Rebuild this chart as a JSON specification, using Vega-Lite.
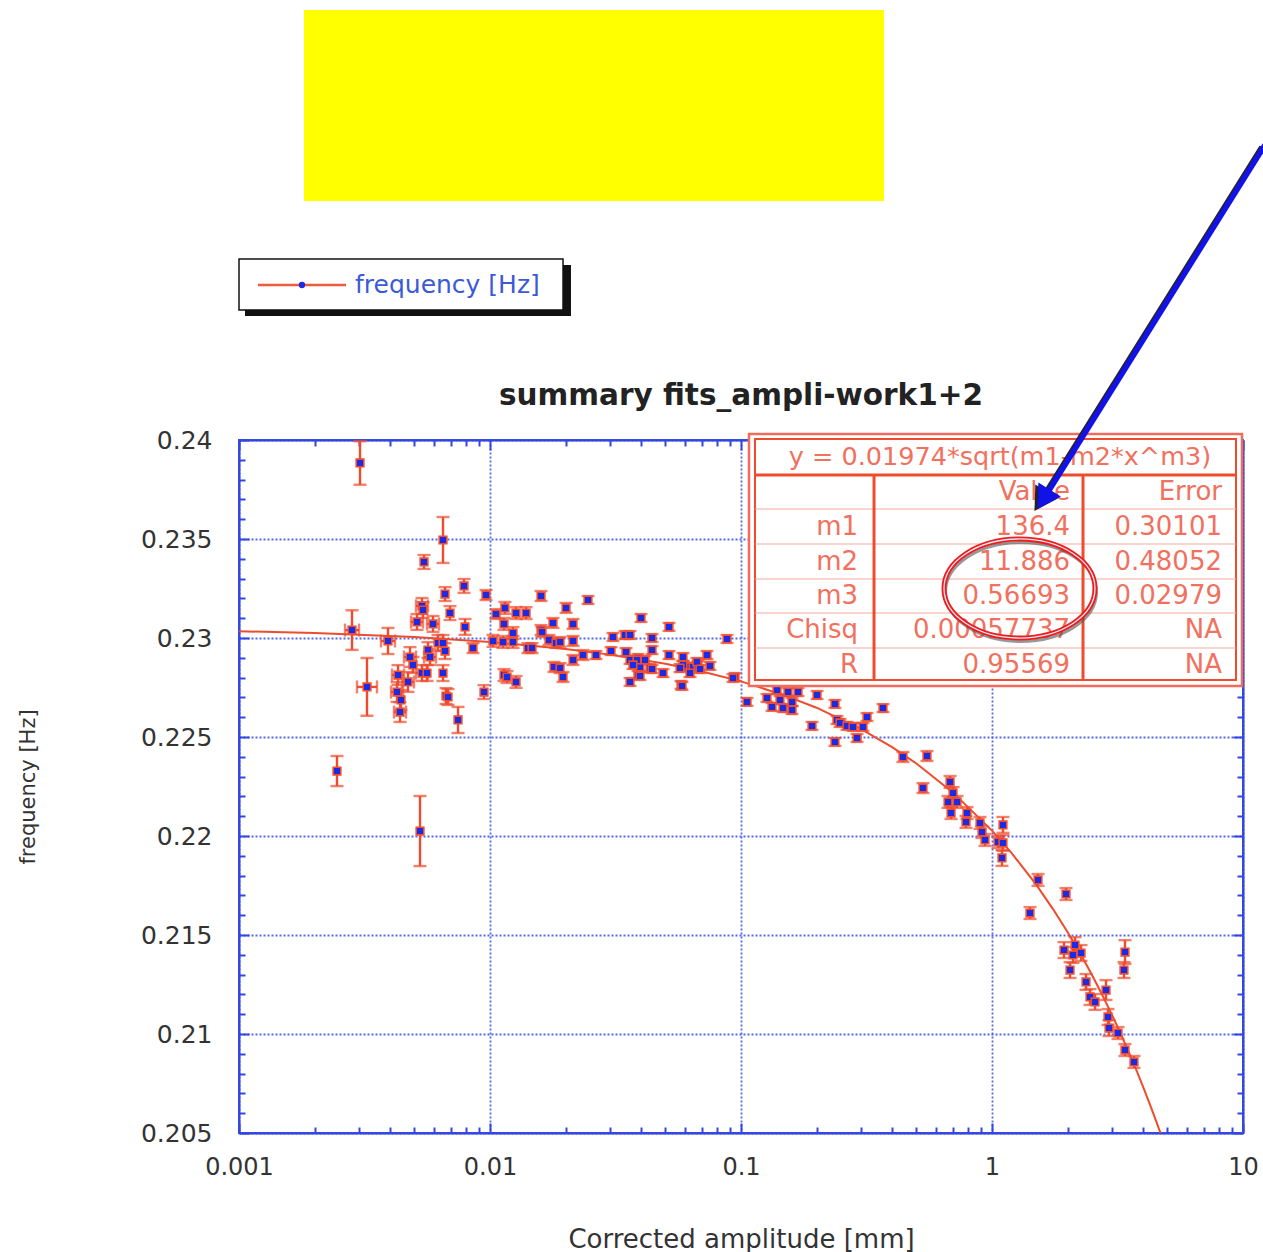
{
  "$schema": "https://vega.github.io/schema/vega-lite/v6.json",
  "autosize": {"type": "none"},
  "width": 1004,
  "height": 693,
  "padding": {"left": 239, "top": 440, "right": 20, "bottom": 119},
  "background": "white",
  "config": {
    "view": {"stroke": "#3347e0", "strokeWidth": 2},
    "font": "DejaVu Sans"
  },
  "datasets": {
    "obs": [
      {"a": 0.003035, "f": 0.23884, "e": 0.0011},
      {"a": 0.006498, "f": 0.23495, "e": 0.00116},
      {"a": 0.005459, "f": 0.23384, "e": 0.00035},
      {"a": 0.007879, "f": 0.23263, "e": 0.00035},
      {"a": 0.006619, "f": 0.23222, "e": 0.00035},
      {"a": 0.009641, "f": 0.23217, "e": 0.00025},
      {"a": 0.00536, "f": 0.23162, "e": 0.0004, "al": 0.005073, "ah": 0.005663},
      {"a": 0.006929, "f": 0.23126, "e": 0.00035},
      {"a": 0.00282, "f": 0.2304, "e": 0.001, "al": 0.002645, "ah": 0.003007},
      {"a": 0.003236, "f": 0.22753, "e": 0.00146, "al": 0.002952, "ah": 0.003547},
      {"a": 0.002457, "f": 0.22328, "e": 0.00076},
      {"a": 0.005262, "f": 0.22025, "e": 0.00177},
      {"a": 0.003923, "f": 0.22985, "e": 0.00066, "al": 0.003679, "ah": 0.004183},
      {"a": 0.004301, "f": 0.22813, "e": 0.0005, "al": 0.004071, "ah": 0.004544},
      {"a": 0.00438, "f": 0.22626, "e": 0.0005, "al": 0.004145, "ah": 0.004628},
      {"a": 0.00442, "f": 0.22687, "e": 0.0005},
      {"a": 0.0048, "f": 0.22904, "e": 0.0005, "al": 0.004543, "ah": 0.005072},
      {"a": 0.004934, "f": 0.22864, "e": 0.0004},
      {"a": 0.004713, "f": 0.22778, "e": 0.0005, "al": 0.00446, "ah": 0.00498},
      {"a": 0.004262, "f": 0.22727, "e": 0.0005, "al": 0.004034, "ah": 0.004503},
      {"a": 0.00541, "f": 0.23141, "e": 0.0004},
      {"a": 0.005119, "f": 0.23081, "e": 0.0004, "al": 0.004845, "ah": 0.005409},
      {"a": 0.005928, "f": 0.23071, "e": 0.0004, "al": 0.00561, "ah": 0.006264},
      {"a": 0.005662, "f": 0.22939, "e": 0.0004},
      {"a": 0.005768, "f": 0.22904, "e": 0.0004, "al": 0.005459, "ah": 0.006095},
      {"a": 0.00536, "f": 0.22823, "e": 0.0004, "al": 0.005073, "ah": 0.005663},
      {"a": 0.00561, "f": 0.22823, "e": 0.0004},
      {"a": 0.006207, "f": 0.22975, "e": 0.0004},
      {"a": 0.006498, "f": 0.22975, "e": 0.0004},
      {"a": 0.006619, "f": 0.22934, "e": 0.0004},
      {"a": 0.006498, "f": 0.22823, "e": 0.0004},
      {"a": 0.00668, "f": 0.22707, "e": 0.0004},
      {"a": 0.006804, "f": 0.22702, "e": 0.0004},
      {"a": 0.007458, "f": 0.22586, "e": 0.00066},
      {"a": 0.007952, "f": 0.23056, "e": 0.0004},
      {"a": 0.008557, "f": 0.22949, "e": 0.00025},
      {"a": 0.009465, "f": 0.22727, "e": 0.00035},
      {"a": 0.01028, "f": 0.22985, "e": 0.0003},
      {"a": 0.01057, "f": 0.23121, "e": 0.00025},
      {"a": 0.01137, "f": 0.23071, "e": 0.0003},
      {"a": 0.01147, "f": 0.23152, "e": 0.0003},
      {"a": 0.01127, "f": 0.2298, "e": 0.0003},
      {"a": 0.01235, "f": 0.23025, "e": 0.0003},
      {"a": 0.01235, "f": 0.2298, "e": 0.0003},
      {"a": 0.0127, "f": 0.23126, "e": 0.0003},
      {"a": 0.01392, "f": 0.23126, "e": 0.0003},
      {"a": 0.01137, "f": 0.22813, "e": 0.0003},
      {"a": 0.01169, "f": 0.22803, "e": 0.0003},
      {"a": 0.0127, "f": 0.22778, "e": 0.0003},
      {"a": 0.01417, "f": 0.22949, "e": 0.00025},
      {"a": 0.0147, "f": 0.22949, "e": 0.00025},
      {"a": 0.01597, "f": 0.23212, "e": 0.00025},
      {"a": 0.01597, "f": 0.2304, "e": 0.00025},
      {"a": 0.01612, "f": 0.2303, "e": 0.00025},
      {"a": 0.01718, "f": 0.2299, "e": 0.00025},
      {"a": 0.01782, "f": 0.23076, "e": 0.00025},
      {"a": 0.01832, "f": 0.22975, "e": 0.00025},
      {"a": 0.01901, "f": 0.2298, "e": 0.00025},
      {"a": 0.02009, "f": 0.23152, "e": 0.00025},
      {"a": 0.02142, "f": 0.23071, "e": 0.00025},
      {"a": 0.02142, "f": 0.22985, "e": 0.00025},
      {"a": 0.01799, "f": 0.22854, "e": 0.00025},
      {"a": 0.01901, "f": 0.22848, "e": 0.00025},
      {"a": 0.01954, "f": 0.22803, "e": 0.00025},
      {"a": 0.02142, "f": 0.22889, "e": 0.00025},
      {"a": 0.02348, "f": 0.22914, "e": 0.00025},
      {"a": 0.02457, "f": 0.23192, "e": 0.0002},
      {"a": 0.02644, "f": 0.22914, "e": 0.0002},
      {"a": 0.03035, "f": 0.22934, "e": 0.0002},
      {"a": 0.0309, "f": 0.23005, "e": 0.0002},
      {"a": 0.0345, "f": 0.23015, "e": 0.0002},
      {"a": 0.03613, "f": 0.23015, "e": 0.0002},
      {"a": 0.03996, "f": 0.23101, "e": 0.0002},
      {"a": 0.03613, "f": 0.22889, "e": 0.0002},
      {"a": 0.03887, "f": 0.22899, "e": 0.0002},
      {"a": 0.03959, "f": 0.22854, "e": 0.0002},
      {"a": 0.03887, "f": 0.22813, "e": 0.0002},
      {"a": 0.03613, "f": 0.22778, "e": 0.0002},
      {"a": 0.04421, "f": 0.23, "e": 0.0002},
      {"a": 0.04421, "f": 0.22939, "e": 0.0002},
      {"a": 0.04341, "f": 0.22848, "e": 0.0002},
      {"a": 0.0489, "f": 0.22823, "e": 0.0002},
      {"a": 0.05167, "f": 0.23056, "e": 0.0002},
      {"a": 0.05167, "f": 0.22914, "e": 0.0002},
      {"a": 0.05768, "f": 0.22763, "e": 0.0002},
      {"a": 0.05875, "f": 0.22904, "e": 0.0002},
      {"a": 0.06095, "f": 0.22854, "e": 0.0002},
      {"a": 0.0644, "f": 0.22854, "e": 0.0002},
      {"a": 0.06264, "f": 0.22823, "e": 0.0002},
      {"a": 0.0674, "f": 0.22864, "e": 0.0002},
      {"a": 0.07319, "f": 0.22914, "e": 0.0002},
      {"a": 0.07522, "f": 0.22859, "e": 0.0002},
      {"a": 0.08796, "f": 0.22995, "e": 0.0002},
      {"a": 0.09465, "f": 0.22803, "e": 0.0002},
      {"a": 0.1057, "f": 0.22677, "e": 0.0002},
      {"a": 0.03482, "f": 0.22929, "e": 0.0002},
      {"a": 0.03852, "f": 0.22889, "e": 0.0002},
      {"a": 0.04146, "f": 0.22889, "e": 0.0002},
      {"a": 0.03713, "f": 0.22864, "e": 0.0002},
      {"a": 0.05875, "f": 0.22864, "e": 0.0002},
      {"a": 0.06678, "f": 0.22879, "e": 0.0002},
      {"a": 0.04421, "f": 0.22843, "e": 0.0002},
      {"a": 0.05715, "f": 0.22848, "e": 0.0002},
      {"a": 0.06865, "f": 0.22843, "e": 0.0002},
      {"a": 0.03959, "f": 0.22808, "e": 0.0002},
      {"a": 0.05821, "f": 0.22758, "e": 0.0002},
      {"a": 0.09293, "f": 0.22798, "e": 0.0002},
      {"a": 0.1269, "f": 0.22697, "e": 0.0002},
      {"a": 0.1391, "f": 0.22737, "e": 0.0002},
      {"a": 0.1539, "f": 0.22727, "e": 0.0002},
      {"a": 0.1687, "f": 0.22727, "e": 0.0002},
      {"a": 0.143, "f": 0.22687, "e": 0.0002},
      {"a": 0.1597, "f": 0.22677, "e": 0.0002},
      {"a": 0.1329, "f": 0.22652, "e": 0.0002},
      {"a": 0.147, "f": 0.22646, "e": 0.0002},
      {"a": 0.1597, "f": 0.22636, "e": 0.0002},
      {"a": 0.2009, "f": 0.22712, "e": 0.0002},
      {"a": 0.2368, "f": 0.22667, "e": 0.0002},
      {"a": 0.1918, "f": 0.22556, "e": 0.0002},
      {"a": 0.2412, "f": 0.22586, "e": 0.0002},
      {"a": 0.248, "f": 0.22571, "e": 0.0002},
      {"a": 0.2644, "f": 0.22556, "e": 0.0002},
      {"a": 0.2794, "f": 0.22551, "e": 0.0002},
      {"a": 0.3177, "f": 0.22601, "e": 0.0002},
      {"a": 0.3679, "f": 0.22646, "e": 0.0002},
      {"a": 0.3063, "f": 0.22551, "e": 0.0002},
      {"a": 0.2368, "f": 0.22475, "e": 0.0002},
      {"a": 0.2899, "f": 0.22495, "e": 0.0002},
      {"a": 0.4419, "f": 0.22399, "e": 0.00025},
      {"a": 0.5508, "f": 0.22404, "e": 0.00025},
      {"a": 0.531, "f": 0.22242, "e": 0.00025},
      {"a": 0.6806, "f": 0.22273, "e": 0.0003},
      {"a": 0.6995, "f": 0.22217, "e": 0.0003},
      {"a": 0.6682, "f": 0.22172, "e": 0.0003},
      {"a": 0.7255, "f": 0.22172, "e": 0.0003},
      {"a": 0.6869, "f": 0.22116, "e": 0.0003},
      {"a": 0.7952, "f": 0.22116, "e": 0.0003},
      {"a": 0.7879, "f": 0.22071, "e": 0.0003},
      {"a": 0.8959, "f": 0.22066, "e": 0.0003},
      {"a": 0.9125, "f": 0.2202, "e": 0.0003},
      {"a": 0.9378, "f": 0.2198, "e": 0.0003},
      {"a": 1.106, "f": 0.22056, "e": 0.0004},
      {"a": 1.0565, "f": 0.2197, "e": 0.0003},
      {"a": 1.106, "f": 0.21965, "e": 0.0004},
      {"a": 1.096, "f": 0.21889, "e": 0.0004},
      {"a": 1.5253, "f": 0.21778, "e": 0.0003},
      {"a": 1.972, "f": 0.21707, "e": 0.0003},
      {"a": 1.417, "f": 0.21611, "e": 0.0003},
      {"a": 1.936, "f": 0.21424, "e": 0.0004},
      {"a": 2.142, "f": 0.21449, "e": 0.0004},
      {"a": 2.102, "f": 0.21399, "e": 0.0004},
      {"a": 2.263, "f": 0.21409, "e": 0.0004},
      {"a": 2.046, "f": 0.21323, "e": 0.0004},
      {"a": 2.369, "f": 0.21263, "e": 0.0004},
      {"a": 2.846, "f": 0.21222, "e": 0.0005},
      {"a": 2.457, "f": 0.21187, "e": 0.0004},
      {"a": 2.5736, "f": 0.21162, "e": 0.0004},
      {"a": 3.387, "f": 0.21414, "e": 0.0006},
      {"a": 3.356, "f": 0.21323, "e": 0.0004},
      {"a": 2.899, "f": 0.21086, "e": 0.0004},
      {"a": 2.926, "f": 0.2103, "e": 0.0004},
      {"a": 3.177, "f": 0.21005, "e": 0.0003},
      {"a": 3.387, "f": 0.20919, "e": 0.0003},
      {"a": 3.679, "f": 0.20859, "e": 0.0003}
    ],
    "fit": [
      {"a": 0.001, "f": 0.23034},
      {"a": 0.002, "f": 0.23025},
      {"a": 0.005, "f": 0.23005},
      {"a": 0.01, "f": 0.2298},
      {"a": 0.02, "f": 0.22945},
      {"a": 0.03, "f": 0.22916},
      {"a": 0.05, "f": 0.2287},
      {"a": 0.07, "f": 0.22831},
      {"a": 0.1, "f": 0.22781},
      {"a": 0.15, "f": 0.22709},
      {"a": 0.2, "f": 0.22648},
      {"a": 0.3, "f": 0.22541},
      {"a": 0.4, "f": 0.22449},
      {"a": 0.5, "f": 0.22366},
      {"a": 0.7, "f": 0.22219},
      {"a": 1, "f": 0.22027},
      {"a": 1.2, "f": 0.21912},
      {"a": 1.5, "f": 0.21754},
      {"a": 1.75, "f": 0.21631},
      {"a": 2, "f": 0.21515},
      {"a": 2.25, "f": 0.21405},
      {"a": 2.5, "f": 0.21299},
      {"a": 2.75, "f": 0.21197},
      {"a": 3, "f": 0.21099},
      {"a": 3.25, "f": 0.21004},
      {"a": 3.5, "f": 0.20911},
      {"a": 3.75, "f": 0.20821},
      {"a": 4, "f": 0.20733},
      {"a": 4.25, "f": 0.20647},
      {"a": 4.5, "f": 0.20563},
      {"a": 4.8, "f": 0.20465}
    ]
  },
  "data": {"name": "obs"},
  "resolve": {"axis": {"x": "independent", "y": "independent"}},
  "layer": [
    {
      "data": {"name": "fit"},
      "mark": {"type": "line", "color": "#ef4b2d", "strokeWidth": 2, "clip": true},
      "encoding": {
        "x": {
          "field": "a", "type": "quantitative",
          "scale": {"type": "log", "domain": [0.001, 10]},
          "axis": {
            "orient": "top", "title": null, "labels": false, "grid": false,
            "values": [0.001, 0.002, 0.003, 0.004, 0.005, 0.006, 0.007, 0.008, 0.009, 0.01, 0.02, 0.03, 0.04, 0.05, 0.06, 0.07, 0.08, 0.09, 0.1, 0.2, 0.3, 0.4, 0.5, 0.6, 0.7, 0.8, 0.9, 1, 2, 3, 4, 5, 6, 7, 8, 9, 10],
            "domainColor": "#3347e0", "domainWidth": 2,
            "tickColor": "#3347e0", "tickWidth": 2,
            "tickSize": {"condition": {"test": "indexof([0.001,0.01,0.1,1,10], datum.value) >= 0", "value": -10}, "value": -6}
          }
        },
        "y": {
          "field": "f", "type": "quantitative",
          "scale": {"domain": [0.205, 0.24], "zero": false, "nice": false},
          "axis": {
            "orient": "right", "title": null, "labels": false, "grid": false,
            "values": [0.205, 0.206, 0.207, 0.208, 0.209, 0.21, 0.211, 0.212, 0.213, 0.214, 0.215, 0.216, 0.217, 0.218, 0.219, 0.22, 0.221, 0.222, 0.223, 0.224, 0.225, 0.226, 0.227, 0.228, 0.229, 0.23, 0.231, 0.232, 0.233, 0.234, 0.235, 0.236, 0.237, 0.238, 0.239, 0.24],
            "domainColor": "#3347e0", "domainWidth": 2,
            "tickColor": "#3347e0", "tickWidth": 2,
            "tickSize": {"condition": {"test": "abs(datum.value*200 - round(datum.value*200)) < 1e-6", "value": -10}, "value": -6}
          }
        }
      }
    },
    {
      "transform": [{"filter": "isValid(datum.al)"}],
      "mark": {"type": "errorbar", "color": "#ef4b2d", "thickness": 2.4, "ticks": {"size": 13, "thickness": 2.4}},
      "encoding": {
        "x": {"field": "al", "type": "quantitative", "axis": null},
        "x2": {"field": "ah"},
        "y": {"field": "f", "type": "quantitative", "axis": null}
      }
    },
    {
      "mark": {"type": "errorbar", "color": "#ef4b2d", "thickness": 2.4, "ticks": {"size": 13, "thickness": 2.4}},
      "encoding": {
        "x": {"field": "a", "type": "quantitative", "axis": null},
        "y": {"field": "f", "type": "quantitative", "axis": null},
        "yError": {"field": "e"}
      }
    },
    {
      "mark": {"type": "point", "shape": "square", "filled": true, "size": 58, "fill": "#1a2be8", "stroke": "#ef4b2d", "strokeWidth": 1.6, "opacity": 1},
      "encoding": {
        "x": {
          "field": "a", "type": "quantitative",
          "axis": {
            "orient": "bottom", "title": "Corrected amplitude [mm]",
            "values": [0.001, 0.002, 0.003, 0.004, 0.005, 0.006, 0.007, 0.008, 0.009, 0.01, 0.02, 0.03, 0.04, 0.05, 0.06, 0.07, 0.08, 0.09, 0.1, 0.2, 0.3, 0.4, 0.5, 0.6, 0.7, 0.8, 0.9, 1, 2, 3, 4, 5, 6, 7, 8, 9, 10],
            "grid": true, "gridColor": "#5468e6", "gridDash": [2, 2], "gridWidth": 1.8,
            "gridOpacity": {"condition": {"test": "indexof([0.001,0.01,0.1,1,10], datum.value) >= 0", "value": 1}, "value": 0},
            "domainColor": "#3347e0", "domainWidth": 2,
            "tickColor": "#3347e0", "tickWidth": 2,
            "tickSize": {"condition": {"test": "indexof([0.001,0.01,0.1,1,10], datum.value) >= 0", "value": -10}, "value": -6},
            "labelExpr": "indexof([0.001,0.01,0.1,1,10], datum.value) >= 0 ? format(datum.value, '~g') : ''",
            "labelOverlap": false, "labelFlush": false, "labelBound": false,
            "labelFont": "DejaVu Sans", "labelFontSize": 24, "labelColor": "#333333", "labelPadding": 32,
            "titleFont": "DejaVu Sans", "titleFontSize": 26, "titleColor": "#333333", "titleFontWeight": "normal", "titlePadding": 43
          }
        },
        "y": {
          "field": "f", "type": "quantitative",
          "axis": {
            "orient": "left", "title": "frequency [Hz]",
            "values": [0.205, 0.206, 0.207, 0.208, 0.209, 0.21, 0.211, 0.212, 0.213, 0.214, 0.215, 0.216, 0.217, 0.218, 0.219, 0.22, 0.221, 0.222, 0.223, 0.224, 0.225, 0.226, 0.227, 0.228, 0.229, 0.23, 0.231, 0.232, 0.233, 0.234, 0.235, 0.236, 0.237, 0.238, 0.239, 0.24],
            "grid": true, "gridColor": "#5468e6", "gridDash": [2, 2], "gridWidth": 1.8,
            "gridOpacity": {"condition": {"test": "abs(datum.value*200 - round(datum.value*200)) < 1e-6", "value": 1}, "value": 0},
            "domainColor": "#3347e0", "domainWidth": 2,
            "tickColor": "#3347e0", "tickWidth": 2,
            "tickSize": {"condition": {"test": "abs(datum.value*200 - round(datum.value*200)) < 1e-6", "value": -10}, "value": -6},
            "labelExpr": "abs(datum.value*200 - round(datum.value*200)) < 1e-6 ? format(datum.value, '~g') : ''",
            "labelOverlap": false, "labelFlush": false, "labelBound": false,
            "labelFont": "DejaVu Sans", "labelFontSize": 25, "labelColor": "#333333", "labelPadding": 37,
            "titleFont": "DejaVu Sans", "titleFontSize": 21, "titleColor": "#333333", "titleFontWeight": "normal", "titlePadding": 102
          }
        }
      }
    },
    {
      "data": {"values": [{"a1": 0.0018155, "a2": 0.3713, "f1": 0.252071, "f2": 0.261717}]},
      "mark": {"type": "rect", "color": "#ffff00"},
      "encoding": {
        "x": {"field": "a1", "type": "quantitative", "axis": null}, "x2": {"field": "a2"},
        "y": {"field": "f1", "type": "quantitative", "axis": null}, "y2": {"field": "f2"}
      }
    },
    {
      "data": {"values": [{"a1": 0.0010566, "a2": 0.02102, "f1": 0.246263, "f2": 0.248838}]},
      "mark": {"type": "rect", "color": "#111111"},
      "encoding": {
        "x": {"field": "a1", "type": "quantitative", "axis": null}, "x2": {"field": "a2"},
        "y": {"field": "f1", "type": "quantitative", "axis": null}, "y2": {"field": "f2"}
      }
    },
    {
      "data": {"values": [{"a1": 0.001, "a2": 0.01954, "f1": 0.246566, "f2": 0.249141}]},
      "mark": {"type": "rect", "fill": "white", "stroke": "#111111", "strokeWidth": 1.5},
      "encoding": {
        "x": {"field": "a1", "type": "quantitative", "axis": null}, "x2": {"field": "a2"},
        "y": {"field": "f1", "type": "quantitative", "axis": null}, "y2": {"field": "f2"}
      }
    },
    {
      "data": {"values": [{"a1": 0.00119, "a2": 0.002669, "f": 0.247828}]},
      "mark": {"type": "rule", "color": "#ef5a3a", "strokeWidth": 2.5},
      "encoding": {
        "x": {"field": "a1", "type": "quantitative", "axis": null}, "x2": {"field": "a2"},
        "y": {"field": "f", "type": "quantitative", "axis": null}
      }
    },
    {
      "data": {"values": [{"a": 0.001782, "f": 0.247828}]},
      "mark": {"type": "point", "shape": "circle", "filled": true, "size": 40, "color": "#1a2be8", "opacity": 1},
      "encoding": {
        "x": {"field": "a", "type": "quantitative", "axis": null},
        "y": {"field": "f", "type": "quantitative", "axis": null}
      }
    },
    {
      "data": {"values": [{"a": 0.002899, "f": 0.247828, "t": "frequency [Hz]"}]},
      "mark": {"type": "text", "align": "left", "baseline": "middle", "font": "DejaVu Sans", "fontSize": 25, "color": "#3b5ad8"},
      "encoding": {
        "x": {"field": "a", "type": "quantitative", "axis": null},
        "y": {"field": "f", "type": "quantitative", "axis": null},
        "text": {"field": "t"}
      }
    },
    {
      "data": {"values": [{"a": 0.1, "f": 0.241768, "t": "summary fits_ampli-work1+2"}]},
      "mark": {"type": "text", "align": "center", "baseline": "alphabetic", "font": "DejaVu Sans", "fontWeight": "bold", "fontSize": 29.5, "color": "#222222"},
      "encoding": {
        "x": {"field": "a", "type": "quantitative", "axis": null},
        "y": {"field": "f", "type": "quantitative", "axis": null},
        "text": {"field": "t"}
      }
    },
    {
      "data": {"values": [{"a1": 0.1076, "a2": 9.909, "f1": 0.227576, "f2": 0.240303}]},
      "mark": {"type": "rect", "fill": "white", "stroke": "#f26b5b", "strokeWidth": 2.5},
      "encoding": {
        "x": {"field": "a1", "type": "quantitative", "axis": null}, "x2": {"field": "a2"},
        "y": {"field": "f1", "type": "quantitative", "axis": null}, "y2": {"field": "f2"}
      }
    },
    {
      "data": {"values": [{"a1": 0.1137, "a2": 9.377, "f1": 0.227879, "f2": 0.240051}]},
      "mark": {"type": "rect", "fill": null, "fillOpacity": 0, "stroke": "#ef4b2d", "strokeWidth": 2},
      "encoding": {
        "x": {"field": "a1", "type": "quantitative", "axis": null}, "x2": {"field": "a2"},
        "y": {"field": "f1", "type": "quantitative", "axis": null}, "y2": {"field": "f2"}
      }
    },
    {
      "data": {"values": [{"f": 0.236515}, {"f": 0.234747}, {"f": 0.23298}, {"f": 0.231263}, {"f": 0.229495}]},
      "mark": {"type": "rule", "color": "#f6a99d", "strokeWidth": 1.2},
      "encoding": {
        "x": {"datum": 0.1137, "type": "quantitative", "axis": null},
        "x2": {"datum": 9.377},
        "y": {"field": "f", "type": "quantitative", "axis": null}
      }
    },
    {
      "data": {"values": [{"f": 0.238232}]},
      "mark": {"type": "rule", "color": "#ef4b2d", "strokeWidth": 3},
      "encoding": {
        "x": {"datum": 0.1137, "type": "quantitative", "axis": null},
        "x2": {"datum": 9.377},
        "y": {"field": "f", "type": "quantitative", "axis": null}
      }
    },
    {
      "data": {"values": [{"a": 0.3388}, {"a": 2.3045}]},
      "mark": {"type": "rule", "color": "#ef4b2d", "strokeWidth": 3},
      "encoding": {
        "x": {"field": "a", "type": "quantitative", "axis": null},
        "y": {"datum": 0.227879, "type": "quantitative", "axis": null},
        "y2": {"datum": 0.238232}
      }
    },
    {
      "data": {"values": [{"a": 1.0762, "f": 0.239141, "t": "y = 0.01974*sqrt(m1-m2*x^m3)"}]},
      "mark": {"type": "text", "align": "center", "baseline": "middle", "font": "DejaVu Sans", "fontSize": 25.5, "color": "#f2705e"},
      "encoding": {
        "x": {"field": "a", "type": "quantitative", "axis": null},
        "y": {"field": "f", "type": "quantitative", "axis": null},
        "text": {"field": "t"}
      }
    },
    {
      "data": {"values": [
        {"a": 2.046, "f": 0.237374, "t": "Value"},
        {"a": 8.248, "f": 0.237374, "t": "Error"},
        {"a": 0.2926, "f": 0.235606, "t": "m1"},
        {"a": 2.046, "f": 0.235606, "t": "136.4"},
        {"a": 8.248, "f": 0.235606, "t": "0.30101"},
        {"a": 0.2926, "f": 0.233838, "t": "m2"},
        {"a": 2.046, "f": 0.233838, "t": "11.886"},
        {"a": 8.248, "f": 0.233838, "t": "0.48052"},
        {"a": 0.2926, "f": 0.232121, "t": "m3"},
        {"a": 2.046, "f": 0.232121, "t": "0.56693"},
        {"a": 8.248, "f": 0.232121, "t": "0.02979"},
        {"a": 0.2926, "f": 0.230404, "t": "Chisq"},
        {"a": 2.046, "f": 0.230404, "t": "0.00057737"},
        {"a": 8.248, "f": 0.230404, "t": "NA"},
        {"a": 0.2926, "f": 0.228636, "t": "R"},
        {"a": 2.046, "f": 0.228636, "t": "0.95569"},
        {"a": 8.248, "f": 0.228636, "t": "NA"}
      ]},
      "mark": {"type": "text", "align": "right", "baseline": "middle", "font": "DejaVu Sans", "fontSize": 26, "color": "#f2705e"},
      "encoding": {
        "x": {"field": "a", "type": "quantitative", "axis": null},
        "y": {"field": "f", "type": "quantitative", "axis": null},
        "text": {"field": "t"}
      }
    },
    {
      "data": {"values": [{"a": 1.287, "f": 0.2325}]},
      "mark": {"type": "point", "filled": false, "size": 22801, "color": "#555555", "strokeWidth": 3, "opacity": 0.6, "xOffset": 1.5, "yOffset": 3.5,
        "shape": "M -1 0 C -1 -0.3623 -0.5523 -0.656 0 -0.656 C 0.5523 -0.656 1 -0.3623 1 0 C 1 0.3623 0.5523 0.656 0 0.656 C -0.5523 0.656 -1 0.3623 -1 0 Z"},
      "encoding": {
        "x": {"field": "a", "type": "quantitative", "axis": null},
        "y": {"field": "f", "type": "quantitative", "axis": null}
      }
    },
    {
      "data": {"values": [{"a": 1.287, "f": 0.2325}]},
      "mark": {"type": "point", "filled": false, "size": 22801, "color": "#ee1c1c", "strokeWidth": 5, "opacity": 1,
        "shape": "M -1 0 C -1 -0.3623 -0.5523 -0.656 0 -0.656 C 0.5523 -0.656 1 -0.3623 1 0 C 1 0.3623 0.5523 0.656 0 0.656 C -0.5523 0.656 -1 0.3623 -1 0 Z"},
      "encoding": {
        "x": {"field": "a", "type": "quantitative", "axis": null},
        "y": {"field": "f", "type": "quantitative", "axis": null}
      }
    },
    {
      "data": {"values": [{"a": 1.287, "f": 0.2325}]},
      "mark": {"type": "point", "filled": false, "size": 22801, "color": "#e4e9f6", "strokeWidth": 1.3, "opacity": 1,
        "shape": "M -1 0 C -1 -0.3623 -0.5523 -0.656 0 -0.656 C 0.5523 -0.656 1 -0.3623 1 0 C 1 0.3623 0.5523 0.656 0 0.656 C -0.5523 0.656 -1 0.3623 -1 0 Z"},
      "encoding": {
        "x": {"field": "a", "type": "quantitative", "axis": null},
        "y": {"field": "f", "type": "quantitative", "axis": null}
      }
    },
    {
      "data": {"values": [{"a1": 12.23, "f1": 0.254899, "a2": 1.604, "f2": 0.23701}]},
      "mark": {"type": "rule", "color": "#222222", "strokeWidth": 5.5, "xOffset": -3, "x2Offset": -3, "yOffset": 2, "y2Offset": 2},
      "encoding": {
        "x": {"field": "a1", "type": "quantitative", "axis": null}, "x2": {"field": "a2"},
        "y": {"field": "f1", "type": "quantitative", "axis": null}, "y2": {"field": "f2"}
      }
    },
    {
      "data": {"values": [{"a": 1.604, "f": 0.23701}]},
      "mark": {"type": "point", "shape": "triangle-up", "angle": 212, "size": 700, "filled": true, "color": "#222222", "opacity": 1, "xOffset": -3, "yOffset": 2},
      "encoding": {
        "x": {"field": "a", "type": "quantitative", "axis": null},
        "y": {"field": "f", "type": "quantitative", "axis": null}
      }
    },
    {
      "data": {"values": [{"a1": 12.23, "f1": 0.254899, "a2": 1.604, "f2": 0.23701}]},
      "mark": {"type": "rule", "color": "#1212e6", "strokeWidth": 5.5},
      "encoding": {
        "x": {"field": "a1", "type": "quantitative", "axis": null}, "x2": {"field": "a2"},
        "y": {"field": "f1", "type": "quantitative", "axis": null}, "y2": {"field": "f2"}
      }
    },
    {
      "data": {"values": [{"a": 1.604, "f": 0.23701}]},
      "mark": {"type": "point", "shape": "triangle-up", "angle": 212, "size": 700, "filled": true, "color": "#1212e6", "opacity": 1},
      "encoding": {
        "x": {"field": "a", "type": "quantitative", "axis": null},
        "y": {"field": "f", "type": "quantitative", "axis": null}
      }
    }
  ]
}
